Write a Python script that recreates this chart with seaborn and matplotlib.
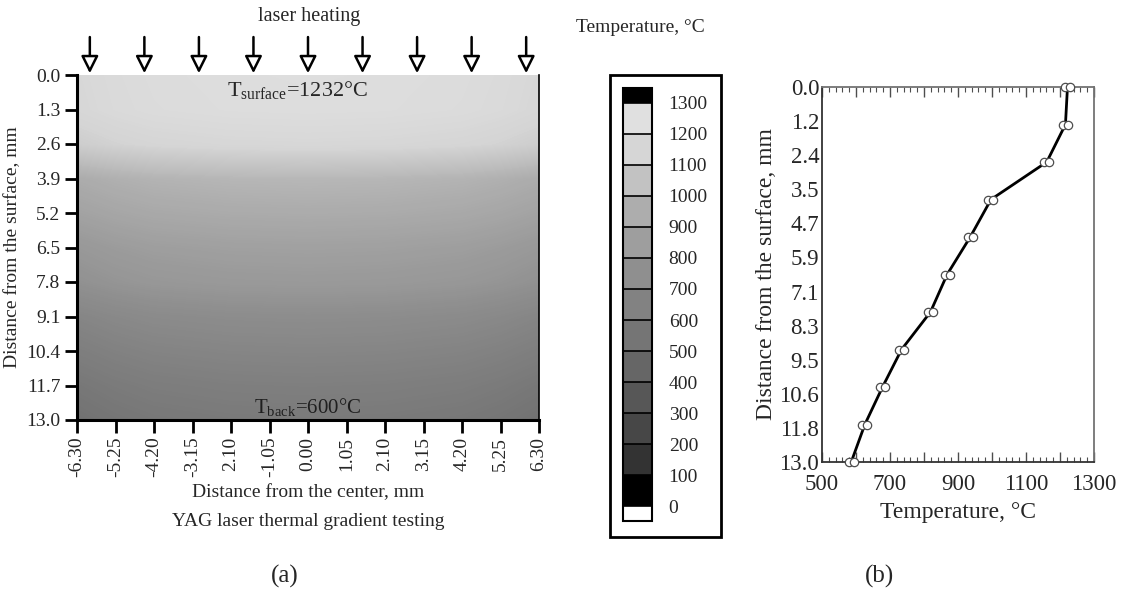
import numpy as np
import pandas as pd
import matplotlib
matplotlib.use("Agg")
import matplotlib.pyplot as plt
import matplotlib.colors as mcolors
import matplotlib.colorbar as mcolorbar
import matplotlib.transforms as mtransforms
from matplotlib.patches import Rectangle
from matplotlib.ticker import MultipleLocator, FuncFormatter
import seaborn as sns

# ---------------- data ----------------
depth_mm = [0.0, 1.3, 2.6, 3.9, 5.2, 6.5, 7.8, 9.1, 10.4, 11.7, 13.0]
temp_profile_c = [1222, 1216, 1161, 997, 936, 868, 819, 734, 678, 626, 586]

lateral_mm = [-6.3, -5.25, -4.2, -2.1, 0.0, 2.1, 4.2, 5.25, 6.3]
lateral_drop_c = [60, 35, 18, 4, 0, 4, 18, 35, 60]

center_ticks = [-6.30, -5.25, -4.20, -3.15, -2.10, -1.05, 0.00, 1.05, 2.10, 3.15, 4.20, 5.25, 6.30]
center_tick_labels = ["-6.30", "-5.25", "-4.20", "-3.15", "2.10", "-1.05", "0.00",
                      "1.05", "2.10", "3.15", "4.20", "5.25", "6.30"]
depth_ticks_a = [0.0, 1.3, 2.6, 3.9, 5.2, 6.5, 7.8, 9.1, 10.4, 11.7, 13.0]
depth_tick_labels_b = ["0.0", "1.2", "2.4", "3.5", "4.7", "5.9", "7.1", "8.3", "9.5", "10.6", "11.8", "13.0"]
temp_ticks_b = [500, 700, 900, 1100, 1300]

cbar_levels = [0, 100, 200, 300, 400, 500, 600, 700, 800, 900, 1000, 1100, 1200, 1300]
cbar_grays = [0.0, 0.2, 0.28, 0.34, 0.40, 0.46, 0.51, 0.56, 0.62, 0.68, 0.76, 0.84, 0.88]

surface_temp = 1232
back_temp = 600

# ---------------- style ----------------
sns.set_theme(style="white")
plt.rcParams["font.family"] = ["Liberation Serif", "DejaVu Serif"]
plt.rcParams["mathtext.fontset"] = "custom"
plt.rcParams["mathtext.rm"] = "Liberation Serif"
plt.rcParams["mathtext.it"] = "Liberation Serif:italic"

W, H = 1136, 596
fig = plt.figure(figsize=(W / 100, H / 100), dpi=100)


def fx(px):
    return px / W


def fy(py):
    return 1 - py / H


# ---------------- panel (a) ----------------
axa = fig.add_axes([fx(77), fy(420), fx(539) - fx(77), fy(75) - fy(420)])
field = np.array(temp_profile_c)[:, None] - np.array(lateral_drop_c)[None, :]
XX, YY = np.meshgrid(lateral_mm, depth_mm)

anchors = [(0.0, str(cbar_grays[0]))]
for i, g in enumerate(cbar_grays):
    c = (cbar_levels[i] + cbar_levels[i + 1]) / 2 / 1300
    anchors.append((c, str(g)))
anchors.append((1.0, str(cbar_grays[-1])))
smooth_cmap = mcolors.LinearSegmentedColormap.from_list("grayfield", anchors)
axa.contourf(XX, YY, field, levels=np.arange(500, 1301, 5), cmap=smooth_cmap, vmin=0, vmax=1300)

axa.set_xlim(-6.3, 6.3)
axa.set_ylim(13.0, 0.0)
axa.set_xticks(center_ticks)
axa.set_xticklabels(center_tick_labels, rotation=90, fontsize=14)
axa.set_yticks(depth_ticks_a)
axa.set_yticklabels([f"{v:.1f}" for v in depth_ticks_a], fontsize=14)
axa.tick_params(axis="both", direction="out", length=9, width=2, color="black", pad=3,
                bottom=True, left=True)
for side in ["left", "bottom"]:
    axa.spines[side].set_linewidth(2.2)
    axa.spines[side].set_color("black")
axa.spines["right"].set_linewidth(1.2)
axa.spines["right"].set_color("black")
axa.spines["top"].set_visible(False)
axa.set_xlabel("Distance from the center, mm", fontsize=14, labelpad=5)
axa.set_ylabel("Distance from the surface, mm", fontsize=14, labelpad=4)

axa.text(-0.3, 0.55, r"$\mathrm{T_{surface}}$=" + f"{surface_temp}°C",
         fontsize=16, ha="center", va="center")
axa.text(0.0, 12.5, r"$\mathrm{T_{back}}$=" + f"{back_temp}°C",
         fontsize=15, ha="center", va="center", color="0.12")

# laser arrows
for xa in np.linspace(-5.95, 5.95, 9):
    axa.annotate("", xy=(xa, 1.005), xycoords=("data", "axes fraction"),
                 xytext=(xa, 1.11), textcoords=("data", "axes fraction"),
                 arrowprops=dict(arrowstyle="-|>", fc="white", ec="black", lw=1.8,
                                 mutation_scale=26, shrinkA=0, shrinkB=0),
                 annotation_clip=False)
fig.text(fx(309), fy(16), "laser heating", fontsize=14.5, ha="center", va="center")
fig.text(fx(308), fy(522), "YAG laser thermal gradient testing", fontsize=14, ha="center", va="center")
fig.text(fx(285), fy(576), "(a)", fontsize=18, ha="center", va="center")

# ---------------- colour legend ----------------
cax = fig.add_axes([fx(623), fy(521), fx(652) - fx(623), fy(88) - fy(521)])
listed = mcolors.ListedColormap([str(g) for g in cbar_grays])
listed.set_over("black")
listed.set_under("white")
norm = mcolors.BoundaryNorm(cbar_levels, listed.N)
cb = mcolorbar.ColorbarBase(cax, cmap=listed, norm=norm, extend="both", extendrect=True,
                            extendfrac=0.037, drawedges=True, ticks=cbar_levels)
cb.outline.set_linewidth(1.5)
cb.outline.set_edgecolor("black")
cb.dividers.set_color("black")
cb.dividers.set_linewidth(1.2)
cax.tick_params(length=0, pad=12, labelsize=14)
cax.set_yticklabels([str(v) for v in cbar_levels])
fig.patches.append(Rectangle((fx(610), fy(537)), fx(721) - fx(610), fy(75) - fy(537),
                             transform=fig.transFigure, fill=False, ec="black", lw=2))
fig.text(fx(640), fy(28), "Temperature, °C", fontsize=14, ha="center", va="center")

# ---------------- panel (b) ----------------
axb = fig.add_axes([fx(822), fy(462), fx(1094) - fx(822), fy(87) - fy(462)])
dfb = pd.DataFrame({"temp": temp_profile_c, "depth": depth_mm})
sns.lineplot(data=dfb, x="temp", y="depth", orient="y", sort=False, color="black",
             linewidth=2.0, ax=axb, zorder=2)
for dx in (-2.5, 2.5):
    tr = mtransforms.offset_copy(axb.transData, fig=fig, x=dx, y=0, units="dots")
    axb.plot(dfb["temp"], dfb["depth"], linestyle="none", marker="o", ms=6,
             mfc="white", mec="0.3", mew=0.9, transform=tr, zorder=3, clip_on=False)

axb.set_xlim(500, 1300)
axb.set_ylim(13.0, 0.0)
ytk = np.linspace(0, 13.0, len(depth_tick_labels_b))
axb.set_yticks(ytk)
axb.set_yticklabels(depth_tick_labels_b, fontsize=16.5)
axb.xaxis.set_major_locator(MultipleLocator(100))
axb.xaxis.set_minor_locator(MultipleLocator(20))
axb.xaxis.set_major_formatter(FuncFormatter(lambda v, p: f"{int(round(v))}" if int(round(v)) in temp_ticks_b else ""))
axb.tick_params(axis="x", which="major", direction="in", length=7, width=1, top=True, bottom=True,
                labelsize=16.5, pad=9, color="0.3")
axb.tick_params(axis="x", which="minor", direction="in", length=3.5, width=0.8, top=True, bottom=True,
                color="0.3")
axb.tick_params(axis="y", length=0, pad=2)
for side in ["left", "bottom", "top", "right"]:
    axb.spines[side].set_visible(True)
    axb.spines[side].set_linewidth(1.3)
    axb.spines[side].set_color("0.45")
axb.spines["left"].set_color("0.2")
axb.spines["bottom"].set_color("0.2")
axb.set_xlabel("Temperature, °C", fontsize=17, labelpad=5)
axb.set_ylabel("Distance from the surface, mm", fontsize=17, labelpad=2)
axb.grid(False)
fig.text(fx(880), fy(576), "(b)", fontsize=18, ha="center", va="center")

fig.savefig("out.png", dpi=100)
